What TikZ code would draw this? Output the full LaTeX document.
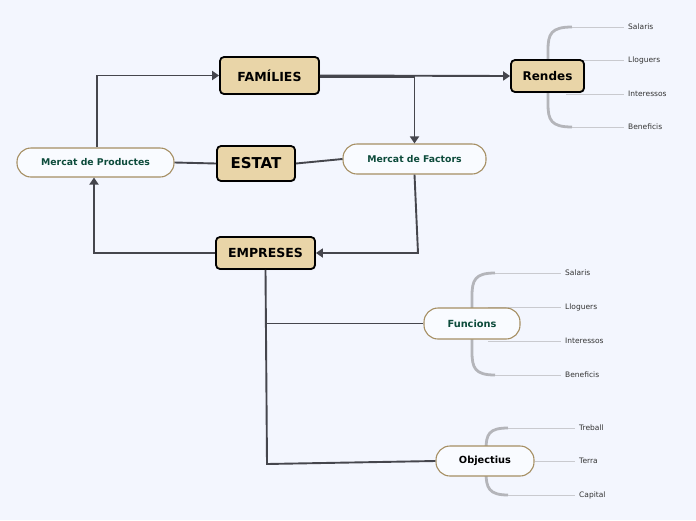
\documentclass[tikz,border=0pt]{standalone}
\usepackage{fontspec}
\setmainfont{DejaVu Sans}
\usepackage{tikz}
\usetikzlibrary{positioning,calc,arrows.meta,shadows}
\definecolor{bg}{HTML}{F3F6FE}
\definecolor{tan}{HTML}{E9D5A8}
\definecolor{pillb}{HTML}{A68F63}
\definecolor{pillf}{HTML}{F9FBFF}
\definecolor{grn}{HTML}{0D4B3B}
\definecolor{ln}{HTML}{45464D}
\definecolor{brk}{HTML}{B4B5BA}
\definecolor{thin}{HTML}{C9CACF}
\tikzset{
  bx/.style={rectangle, rounded corners=4pt, draw=black, line width=1.8pt, fill=tan, text centered, font=\bfseries\fontsize{12.5}{14}\selectfont,
    drop shadow={opacity=0.2, shadow xshift=1pt, shadow yshift=-1pt}},
  pill/.style={rectangle, rounded corners=14pt, draw=pillb, line width=1.1pt, fill=pillf, text centered, text=grn, font=\bfseries\fontsize{9.3}{11}\selectfont},
  lf/.style={anchor=west, inner sep=4pt, font=\fontsize{7.5}{8}\selectfont, text=black!80},
  cn/.style={draw=ln, line width=1.9pt},
  ar/.style={cn, -{Triangle[width=9pt,length=7pt]}},
  br/.style={draw=brk, line width=2.8pt},
  tl/.style={draw=thin, line width=1pt}
}
\begin{document}
\begin{tikzpicture}[x=1pt, y=-1pt]
	\useasboundingbox[fill=bg] (0,0) rectangle (696,520);

	% Rendes branch (behind the box)
	\node[lf] (r1) at (624,27) {Salaris};
	\node[lf] (r2) at (624,60) {Lloguers};
	\node[lf] (r3) at (624,94) {Interessos};
	\node[lf] (r4) at (624,127) {Beneficis};
	\draw[br] (572,27) .. controls (551,27) and (548,34) .. (548,50) -- (548,104) .. controls (548,120) and (551,127) .. (572,127);
	\draw[tl] (572,27) -- (r1.west);
	\draw[tl] (566,60) -- (r2.west);
	\draw[tl] (566,94) -- (r3.west);
	\draw[tl] (572,127) -- (r4.west);

	\node[bx, minimum width=99pt, minimum height=37pt] (fam) at (269.5,75.5) {FAMÍLIES};
	\node[bx, minimum width=78pt, minimum height=35pt, font=\bfseries\fontsize{15}{17}\selectfont] (estat) at (256,163.5) {ESTAT};
	\node[bx, minimum width=99pt, minimum height=32pt] (emp) at (265.5,253) {EMPRESES};
	\node[bx, minimum width=73pt, minimum height=32pt, font=\bfseries\fontsize{12}{14}\selectfont] (rend) at (547.5,76) {Rendes};

	\node[pill, minimum width=157pt, minimum height=29pt] (prod) at (95.5,162.5) {Mercat de Productes};
	\node[pill, minimum width=143pt, minimum height=30pt] (fact) at (414.5,159) {Mercat de Factors};

	\coordinate (fk) at (418,253);
	\coordinate (eo) at (267,464);

	% main flows
	\draw[ar] ([xshift=1.5pt]prod.north) |- (fam.west);
	\draw[ar] (fam.east) -- (rend.west);
	\draw[ar] ([yshift=-1.5pt]fam.east) -| (fact.north);
	\draw[cn] (prod.east) -- (estat.west);
	\draw[cn] (estat.east) -- (fact.west);
	\draw[ar] (fact.south) -- (fk) -- (emp.east);
	\draw[ar] (emp.west) -| ([xshift=-1.5pt]prod.south);

	% Funcions
	\node[lf] (f1) at (561,273) {Salaris};
	\node[lf] (f2) at (561,307) {Lloguers};
	\node[lf] (f3) at (561,341) {Interessos};
	\node[lf] (f4) at (561,375) {Beneficis};
	\draw[br] (495,273) .. controls (475,273) and (472,280) .. (472,296) -- (472,352) .. controls (472,368) and (475,375) .. (495,375);
	\draw[tl] (495,273) -- (f1.west);
	\draw[tl] (488,307) -- (f2.west);
	\draw[tl] (488,341) -- (f3.west);
	\draw[tl] (495,375) -- (f4.west);
	\node[pill, minimum width=96pt, minimum height=31pt, font=\bfseries\fontsize{9.8}{11}\selectfont] (func) at (472,323.5) {Funcions};
	\draw[cn] (emp.south) |- (func.west);

	% Objectius
	\node[lf] (o1) at (575,428) {Treball};
	\node[lf] (o2) at (575,461) {Terra};
	\node[lf] (o3) at (575,495) {Capital};
	\draw[br] (508,428) .. controls (489,428) and (486,434) .. (486,450);
	\draw[br] (486,472) .. controls (486,488) and (489,495) .. (508,495);
	\node[pill, minimum width=98pt, minimum height=30pt, text=black, font=\bfseries\fontsize{9.8}{11}\selectfont] (obj) at (485,461) {Objectius};
	\draw[cn] (emp.south) -- (eo) -- (obj.west);
	\draw[tl] (508,428) -- (o1.west);
	\draw[tl] (obj.east) -- (o2.west);
	\draw[tl] (508,495) -- (o3.west);
\end{tikzpicture}
\end{document}
